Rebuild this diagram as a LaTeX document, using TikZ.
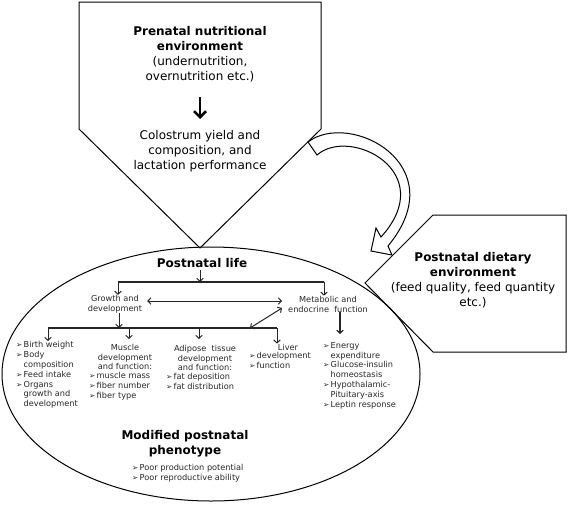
\documentclass[tikz,border=0pt]{standalone}
\usepackage{fontspec}
\setmainfont{DejaVu Sans}
\usetikzlibrary{arrows.meta}
\newcommand{\bu}{\makebox[7.5pt][l]{\fontsize{7.5}{7.5}\selectfont ➢}}
\newcommand{\ind}{\hspace*{7.5pt}}
\begin{document}
\begin{tikzpicture}[x=1pt,y=-1pt,
  shapeline/.style={draw=black, line width=1pt, line join=miter},
  big/.style={font=\fontsize{12}{15}\selectfont, align=center, inner sep=0pt},
  small/.style={font=\fontsize{8.2}{9.9}\selectfont, text=black!85, inner sep=0pt},
  sarr/.style={draw=black!85, line width=1pt, -{Straight Barb[length=3pt,width=6.5pt]}},
  darr/.style={draw=black!85, line width=1pt, {Straight Barb[length=3pt,width=6.5pt]}-{Straight Barb[length=3pt,width=6.5pt]}},
  hline/.style={draw=black!85, line width=1.3pt}]
\useasboundingbox (0,0) rectangle (567,507);

% top pentagon
\draw[shapeline] (79,2) -- (321,2) -- (321,129) -- (200,248) -- (79,129) -- cycle;
% right pentagon
\draw[shapeline] (433,215) -- (566,215) -- (566,352) -- (433,352) -- (365,283) -- cycle;
% ellipse
\draw[shapeline] (211,374) ellipse [x radius=209pt, y radius=127pt];
% curved block arrow
\draw[shapeline, fill=white] (308,142) .. controls (350,110) and (455,165) .. (388,246)
  -- (392,255) -- (371,251) -- (376,228) -- (381,237)
  .. controls (440,172) and (350,126) .. (317,155) -- cycle;

% top texts
\node[big] (prenatal) at (200,54) {\textbf{Prenatal nutritional}\\\textbf{environment}\\(undernutrition,\\overnutrition etc.)};
\node[big] (colostrum) at (200,151) {Colostrum yield and\\composition, and\\lactation performance};
\draw[line width=2.5pt, -{Straight Barb[length=6pt,width=12pt]}, shorten <=15pt, shorten >=11pt] (prenatal.south) -- (colostrum.north);

% right text
\node[big] (postdiet) at (473,280) {\textbf{Postnatal dietary}\\\textbf{environment}\\(feed quality, feed quantity\\etc.)};

% ellipse contents
\node[big] (plife) at (202,263) {\textbf{Postnatal life}};
\coordinate (bL) at (118,282);
\coordinate (bR) at (324,282);
\draw[hline] (bL) -- (bR);
\draw[sarr] (plife.south) ++(-2,2) -- (200,282);

\node[small, align=center] (growth) at (115,304) {Growth and\\development};
\node[small, align=center] (metab) at (328,304) {Metabolic and\\endocrine\ \ function};
\draw[sarr] (bL) -- (bL |- growth.north);
\draw[sarr] (bR) -- (bR |- metab.north);
\draw[darr, shorten <=5pt, shorten >=6pt] ([yshift=3pt]growth.east) -- ([yshift=3pt]metab.west);

\coordinate (c1) at (48,328);
\coordinate (c4) at (277,328);
\coordinate (dj) at (250,328);
\coordinate (m5) at (340,334);
\draw[hline] (c1) -- (c4);
\draw[sarr] (growth.south -| 119,0) -- (119,328);
\draw[darr] (dj) -- ([xshift=-6pt,yshift=-4pt]metab.west);
\draw[sarr, line width=1.2pt] (metab.south -| m5) -- (m5);

\node[small, align=left, anchor=north west] (col1) at (16,341) {\bu Birth weight\\\bu Body\\\ind composition\\\bu Feed intake\\\bu Organs\\\ind growth and\\\ind development};
\node[small, align=center] (col2h) at (125,357) {Muscle\\development\\and function:};
\node[small, align=left, anchor=north west] (col2b) at (89,372) {\bu muscle mass\\\bu fiber number\\\bu fiber type};
\node[small, align=center] (col3h) at (205,358) {Adipose\ \ tissue\\development\\and function:};
\node[small, align=left, anchor=north west] (col3b) at (166,373) {\bu fat deposition\\\bu fat distribution};
\node[small] (col4h) at (288,347) {Liver};
\node[small, align=left, anchor=north west] (col4b) at (249,352) {\bu development\\\bu function};
\node[small, align=left, anchor=north west] (col5) at (323,342) {\bu Energy\\\ind expenditure\\\bu Glucose-insulin\\\ind homeostasis\\\bu Hypothalamic-\\\ind Pituitary-axis\\\bu Leptin response};

\draw[sarr] (c1) -- (c1 |- col1.north);
\draw[sarr] (129,328) -- (129,339);
\draw[sarr] (199,328) -- (199,339);
\draw[sarr] (c4) -- (c4 |- col4h.north);

\node[big] (modified) at (185,444) {\textbf{Modified postnatal}\\\textbf{phenotype}};
\node[small, align=left, anchor=north west] (poor) at (132,464) {\bu Poor production potential\\\bu Poor reproductive ability};
\end{tikzpicture}
\end{document}
